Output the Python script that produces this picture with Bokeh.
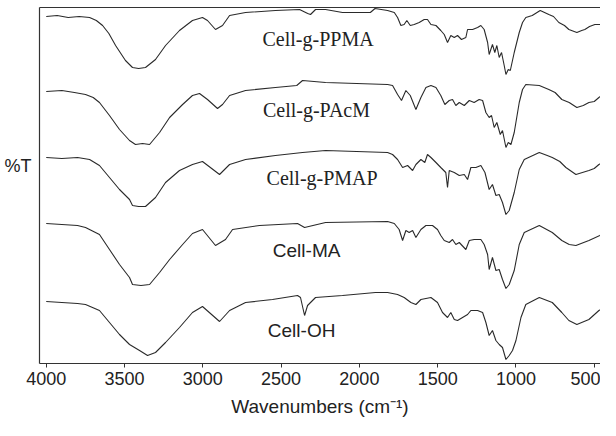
from bokeh.plotting import figure
from bokeh.models import Range1d, LinearAxis, FixedTicker
from bokeh.core.properties import value
from bokeh.embed import file_html
from bokeh.resources import INLINE

# x axis ticks (wavenumbers, cm-1)
x_ticks = [4000, 3500, 3000, 2500, 2000, 1500, 1000, 500]

# Spectra: wavenumber (cm-1) and offset transmittance (arbitrary units, stacked)
wn_ppma = [4000, 3930, 3860, 3790, 3723, 3680, 3640, 3600, 3557, 3494,
           3449, 3410, 3366, 3302, 3238, 3149, 3066, 3002, 2970, 2919,
           2874, 2829, 2727, 2536, 2382, 2330, 2312, 2280, 2216, 2108,
           1930, 1900,
           1820, 1777, 1756, 1735, 1714, 1697, 1675, 1650, 1618, 1586,
           1565, 1543, 1511, 1480, 1458, 1437, 1416, 1394, 1373, 1348,
           1320, 1309, 1277, 1245, 1224, 1203, 1181, 1171, 1150, 1135,
           1122, 1107, 1092, 1075, 1064, 1049, 1036, 1011, 979, 958,
           937,
           896, 845, 790, 760, 726, 690, 662, 611, 580, 560,
           530, 496, 460, 409]
t_ppma = [349, 350, 348, 349, 348, 345, 340, 332, 320, 305,
          298, 297, 298, 306, 320, 335, 345, 348, 345, 336,
          340, 350, 353, 355, 356, 352, 351, 356, 356, 353,
          353, 357,
          355, 353, 348, 340, 341, 345, 340, 341, 343, 346,
          346, 341, 340, 335, 331, 323, 330, 328, 330, 326,
          328, 336, 336, 338, 340, 336, 323, 311, 321, 313,
          320, 308, 313, 300, 291, 296, 295, 313, 333, 343,
          348,
          350, 355, 351, 349, 343, 340, 336, 333, 335, 336,
          339, 341, 341, 343]

wn_pacm = [4000, 3900, 3820, 3749, 3700, 3660, 3596, 3532, 3468, 3430,
           3385, 3340, 3276, 3212, 3129, 3066, 3021, 2970, 2906, 2874,
           2829, 2727, 2536, 2400, 2363, 2216,
           1820, 1788, 1756, 1731, 1703, 1675, 1639, 1607, 1575, 1543,
           1511, 1480, 1454, 1426, 1405, 1384, 1362, 1330, 1298, 1267,
           1235, 1213, 1192, 1171, 1156, 1139, 1122, 1100, 1086, 1064,
           1049, 1032, 1011, 979, 958, 937,
           851, 790, 750, 707, 660, 611, 570, 534, 500, 470,
           409]
t_pacm = [274, 275, 273, 271, 268, 263, 250, 236, 225, 221,
          222, 221, 233, 248, 261, 270, 272, 266, 257, 261,
          270, 275, 278, 280, 285, 283,
          281, 280, 271, 265, 275, 270, 256, 268, 278, 280,
          278, 270, 261, 265, 266, 260, 263, 260, 265, 263,
          266, 265, 253, 248, 250, 238, 243, 231, 235, 218,
          223, 221, 233, 263, 276, 281,
          280, 276, 273, 266, 263, 258, 260, 263, 264, 268,
          276]

wn_pmap = [4000, 3900, 3800, 3723, 3660, 3596, 3532, 3468, 3449, 3410,
           3366, 3302, 3238, 3149, 3066, 3002, 2893, 2829, 2727, 2536,
           2363, 2216,
           1820, 1788, 1756, 1724, 1692, 1660, 1639, 1607, 1582, 1565,
           1543, 1511, 1480, 1448, 1437, 1426, 1394, 1362, 1330, 1309,
           1288, 1256, 1224, 1198, 1171, 1150, 1128, 1107, 1086, 1064,
           1043, 1011, 979, 947,
           851, 800, 768, 720, 681, 617, 534, 500, 470, 409]
t_pmap = [208, 207, 208, 206, 200, 188, 176, 166, 160, 159,
          159, 168, 183, 195, 201, 204, 191, 201, 206, 210,
          213, 215,
          213, 211, 206, 198, 200, 195, 201, 206, 203, 211,
          208, 203, 198, 193, 178, 195, 193, 190, 191, 186,
          198, 198, 200, 193, 176, 181, 170, 171, 163, 151,
          155, 173, 196, 206,
          213, 210, 208, 204, 198, 191, 195, 197, 201, 206]

wn_ma = [4000, 3900, 3800, 3749, 3660, 3596, 3532, 3468, 3449, 3395,
         3340, 3276, 3212, 3129, 3066, 3002, 2919, 2855, 2810, 2638,
         2395, 2350, 2216,
         1820, 1777, 1746, 1724, 1703, 1682, 1660, 1639, 1607, 1575,
         1533, 1501, 1480, 1458, 1426, 1405, 1384, 1362, 1320, 1298,
         1267, 1224, 1203, 1181, 1171, 1150, 1128, 1107, 1086, 1064,
         1043, 1011, 979, 947,
         851, 768, 707, 660, 617, 534, 464, 409]
t_ma = [142, 141, 140, 138, 131, 116, 101, 88, 81, 80,
        81, 93, 106, 121, 132, 136, 120, 126, 136, 140,
        142, 138, 143,
        144, 142, 136, 125, 135, 133, 135, 128, 136, 140,
        140, 136, 130, 125, 123, 126, 121, 123, 116, 125,
        126, 126, 121, 111, 96, 108, 95, 96, 86, 77,
        81, 95, 121, 133,
        140, 133, 125, 121, 120, 125, 130, 138]

wn_oh = [4000, 3900, 3800, 3749, 3660, 3596, 3532, 3468, 3404, 3353,
         3302, 3238, 3149, 3066, 3002, 2893, 2829, 2727, 2555, 2395,
         2376, 2350, 2331, 2280, 2108, 1897,
         1820, 1756, 1714, 1671, 1639, 1607, 1543, 1501, 1469, 1437,
         1416, 1394, 1373, 1341, 1309, 1288, 1245, 1213, 1192, 1171,
         1150, 1128, 1107, 1086, 1064, 1043, 1022, 1000, 968, 937,
         851, 768, 707, 662, 611, 534, 470, 409]
t_oh = [64, 63, 62, 61, 55, 43, 31, 21, 15, 10,
        13, 23, 38, 53, 59, 44, 55, 63, 66, 70,
        68, 50, 60, 68, 70, 73,
        73, 71, 68, 63, 61, 66, 68, 63, 53, 48,
        53, 46, 45, 48, 51, 55, 55, 53, 43, 30,
        35, 25, 21, 18, 6, 10, 15, 25, 48, 61,
        68, 63, 53, 45, 41, 46, 55, 61]

# Trace labels
label_names = ["Cell-g-PPMA", "Cell-g-PAcM", "Cell-g-PMAP", "Cell-MA", "Cell-OH"]
label_x = [2264, 2274, 2238, 2337, 2369]
label_y = [327, 256, 188, 115, 35]

p = figure(width=600, height=420, output_backend="svg", toolbar_location=None,
           x_range=Range1d(4043, 460), y_range=Range1d(2, 358),
           min_border_left=39, min_border_right=0, min_border_top=7, min_border_bottom=57)
p.outline_line_color = None
p.xgrid.visible = False
p.ygrid.visible = False
p.background_fill_color = "white"
p.border_fill_color = "white"

xa = p.xaxis[0]
xa.ticker = FixedTicker(ticks=x_ticks)
xa.minor_tick_line_color = None
xa.minor_tick_out = 0
xa.major_tick_in = 0
xa.major_tick_out = 4
xa.major_tick_line_color = "#333333"
xa.axis_line_color = "#333333"
xa.axis_line_width = 1.2
xa.major_label_standoff = 4
xa.major_label_text_font = "Liberation Sans"
xa.major_label_text_font_size = "18px"
xa.major_label_text_color = "#222222"
xa.axis_label = "Wavenumbers (cm\u207b\u00b9)"
xa.axis_label_text_font = "Liberation Sans"
xa.axis_label_text_font_style = "normal"
xa.axis_label_text_font_size = "19px"
xa.axis_label_text_color = "#222222"
xa.axis_label_standoff = 8

ya = p.yaxis[0]
ya.ticker = FixedTicker(ticks=[200])
ya.major_label_overrides = {200: "%T"}
ya.major_tick_line_color = None
ya.minor_tick_line_color = None
ya.major_tick_out = 0
ya.major_tick_in = 0
ya.minor_tick_out = 0
ya.axis_line_color = "#333333"
ya.axis_line_width = 1.2
ya.major_label_standoff = 8
ya.major_label_text_font = "Liberation Sans"
ya.major_label_text_font_size = "18px"
ya.major_label_text_color = "#222222"

top = LinearAxis(ticker=FixedTicker(ticks=[]), major_tick_line_color=None,
                 minor_tick_line_color=None, major_tick_out=0, major_tick_in=0,
                 minor_tick_out=0, major_label_standoff=0,
                 major_label_text_font_size="0px",
                 axis_line_color="#333333", axis_line_width=1.2)
p.add_layout(top, "above")

for wn, t in [(wn_ppma, t_ppma), (wn_pacm, t_pacm), (wn_pmap, t_pmap), (wn_ma, t_ma), (wn_oh, t_oh)]:
    p.line(wn, t, line_color="#2a2a2a", line_width=1.1)

p.text(x=label_x[:3], y=label_y[:3], text=label_names[:3], text_font=value("Liberation Serif"),
       text_font_size="20px", text_align="center", text_baseline="alphabetic", text_color="#222222")
p.text(x=label_x[3:], y=label_y[3:], text=label_names[3:], text_font=value("Liberation Sans"),
       text_font_size="19px", text_align="center", text_baseline="alphabetic", text_color="#222222")

open("out.html", "w").write(file_html(p, INLINE))
